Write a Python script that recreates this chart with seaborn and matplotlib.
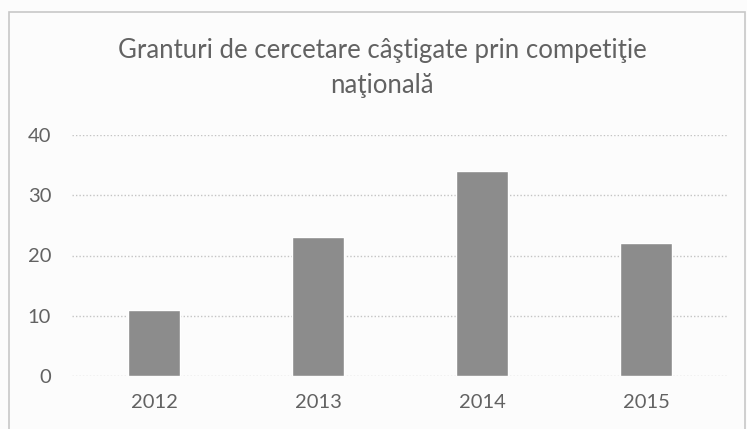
import seaborn as sns
import matplotlib.pyplot as plt
from matplotlib.patches import Rectangle
import pandas as pd

# data
years = ["2012", "2013", "2014", "2015"]
grants = [11, 23, 34, 22]
title = "Granturi de cercetare câştigate prin competiţie\nnaţională"

TEXT = "#626262"
BAR = "#8c8c8c"

sns.set_style("white")
plt.rcParams["font.family"] = ["Lato", "DejaVu Sans"]

df = pd.DataFrame({"an": years, "granturi": grants})

fig = plt.figure(figsize=(7.47, 4.29), dpi=100)
fig.patch.set_facecolor("#fcfcfc")
# light border of the chart area
fig.patches.append(Rectangle((9 / 747, -0.05), 736 / 747, 1.05 - 12 / 429,
                             transform=fig.transFigure, fill=False,
                             edgecolor="#c8c8c8", linewidth=1.2))

ax = fig.add_axes([72 / 747, 1 - 376 / 429, 656 / 747, 241 / 429])
ax.set_facecolor("none")
sns.barplot(data=df, x="an", y="granturi", color=BAR, width=0.32,
            saturation=1, ax=ax)

ax.set_ylim(0, 40)
ax.set_yticks([0, 10, 20, 30, 40])
ax.yaxis.grid(True, linestyle=(0, (1, 1.5)), color="#c4c4c4", linewidth=1)
ax.set_axisbelow(True)
sns.despine(ax=ax, left=True, bottom=True)
ax.set_xlabel("")
ax.set_ylabel("")
ax.tick_params(axis="both", length=0, labelsize=14.5, colors=TEXT)
ax.tick_params(axis="y", pad=15)
ax.tick_params(axis="x", pad=13)

fig.text(382 / 747, 1 - 68 / 429, title, ha="center", va="center",
         fontsize=18.5, color=TEXT, linespacing=1.5)

fig.savefig("out.png", dpi=100, facecolor=fig.get_facecolor())
